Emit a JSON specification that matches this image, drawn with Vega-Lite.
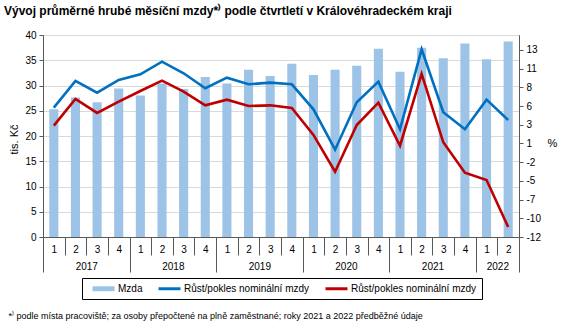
{
  "$schema": "https://vega.github.io/schema/vega-lite/v6.json",
  "width": 476,
  "height": 202,
  "autosize": {"type": "none"},
  "padding": {"left": 43, "top": 35, "right": 48, "bottom": 90},
  "config": {
    "font": "Liberation Sans",
    "view": {"stroke": "#595959", "strokeWidth": 1}
  },
  "title": {
    "text": "Vývoj průměrné hrubé měsíční mzdy*⁾ podle čtvrtletí v Královéhradeckém kraji",
    "anchor": "start",
    "frame": "group",
    "dx": -39,
    "fontSize": 12,
    "fontWeight": "bold",
    "color": "#000000",
    "offset": 12
  },
  "data": {
    "values": [
      {"key": "2017-1", "mzda": 25.3, "nom1": 5.29, "nom2": 2.88},
      {"key": "2017-2", "mzda": 27.6, "nom1": 8.86, "nom2": 6.45},
      {"key": "2017-3", "mzda": 26.7, "nom1": 7.29, "nom2": 4.58},
      {"key": "2017-4", "mzda": 29.4, "nom1": 8.99, "nom2": 6.09},
      {"key": "2018-1", "mzda": 28.0, "nom1": 9.75, "nom2": 7.52},
      {"key": "2018-2", "mzda": 30.4, "nom1": 11.44, "nom2": 8.9},
      {"key": "2018-3", "mzda": 29.3, "nom1": 9.88, "nom2": 7.43},
      {"key": "2018-4", "mzda": 31.7, "nom1": 7.88, "nom2": 5.6},
      {"key": "2019-1", "mzda": 30.4, "nom1": 9.3, "nom2": 6.36},
      {"key": "2019-2", "mzda": 33.1, "nom1": 8.41, "nom2": 5.51},
      {"key": "2019-3", "mzda": 31.9, "nom1": 8.63, "nom2": 5.6},
      {"key": "2019-4", "mzda": 34.3, "nom1": 8.41, "nom2": 5.25},
      {"key": "2020-1", "mzda": 32.1, "nom1": 5.07, "nom2": 1.64},
      {"key": "2020-2", "mzda": 33.1, "nom1": -0.33, "nom2": -3.27},
      {"key": "2020-3", "mzda": 33.9, "nom1": 6.0, "nom2": 2.97},
      {"key": "2020-4", "mzda": 37.3, "nom1": 8.76, "nom2": 5.95},
      {"key": "2021-1", "mzda": 32.7, "nom1": 2.4, "nom2": 0.2},
      {"key": "2021-2", "mzda": 37.5, "nom1": 13.09, "nom2": 9.79},
      {"key": "2021-3", "mzda": 35.4, "nom1": 4.67, "nom2": 0.66},
      {"key": "2021-4", "mzda": 38.3, "nom1": 2.4, "nom2": -3.4},
      {"key": "2022-1", "mzda": 35.2, "nom1": 6.36, "nom2": -4.38},
      {"key": "2022-2", "mzda": 38.7, "nom1": 3.64, "nom2": -10.66}
    ]
  },
  "layer": [
    {
      "mark": {"type": "bar", "width": {"band": 0.42}},
      "encoding": {
        "x": {
          "field": "key",
          "type": "ordinal",
          "sort": null,
          "scale": {"type": "band", "paddingInner": 0, "paddingOuter": 0},
          "axis": {
            "orient": "bottom",
            "title": null,
            "tickBand": "extent",
            "tickSize": 18,
            "tickColor": "#595959",
            "domainColor": "#595959",
            "labelExpr": "split(datum.value, '-')[1]",
            "labelAngle": 0,
            "labelBaseline": "middle",
            "labelPadding": -6,
            "labelFontSize": 10,
            "labelColor": "#000000",
            "labelOverlap": false,
            "grid": false
          }
        },
        "y": {
          "field": "mzda",
          "type": "quantitative",
          "scale": {"domain": [0, 40], "nice": false},
          "axis": {
            "orient": "left",
            "values": [0, 5, 10, 15, 20, 25, 30, 35, 40],
            "tickSize": 4,
            "tickColor": "#595959",
            "domainColor": "#595959",
            "labelPadding": 3,
            "labelFontSize": 10,
            "labelColor": "#000000",
            "grid": true,
            "gridColor": "#D9D9D9",
            "title": "tis. Kč",
            "titleFontSize": 11,
            "titleFontWeight": "normal",
            "titleColor": "#000000",
            "titleX": -29,
            "titleY": 104,
            "titleAngle": -90,
            "titleAlign": "center",
            "titleBaseline": "middle"
          }
        },
        "color": {
          "datum": "Mzda",
          "type": "nominal",
          "title": null,
          "scale": {"domain": ["Mzda", "nom1", "nom2"], "range": ["#9DC3E6", "#0070C0", "#C00000"]},
          "legend": {
            "orient": "none",
            "legendX": 39,
            "legendY": 243,
            "direction": "horizontal",
            "title": null,
            "strokeColor": "#000000",
            "fillColor": "#ffffff",
            "padding": 5,
            "labelFontSize": 10,
            "labelColor": "#000000",
            "symbolSize": 121,
            "labelOffset": 20,
            "columnPadding": 10,
            "labelExpr": "datum.value == 'Mzda' ? 'Mzda' : 'Růst/pokles nominální mzdy'",
            "encode": {
              "symbols": {
                "update": {
                  "shape": [
                    {"test": "datum.value === 'Mzda'", "value": "M0,-0.45H4V0.45H0Z"},
                    {"value": "M0,-0.27H4V0.27H0Z"}
                  ],
                  "fill": {"scale": "color", "field": "value"},
                  "fillOpacity": {"value": 1},
                  "strokeWidth": {"value": 0}
                }
              }
            }
          }
        }
      }
    },
    {
      "transform": [{"fold": ["nom1", "nom2"], "as": ["series", "pct"]}],
      "mark": {"type": "line", "strokeWidth": 2.6},
      "encoding": {
        "x": {
          "field": "key",
          "type": "ordinal",
          "sort": null,
          "scale": {"type": "band", "paddingInner": 0, "paddingOuter": 0},
          "axis": {
            "orient": "bottom",
            "tickBand": "extent",
            "tickSize": 35,
            "tickColor": "#595959",
            "tickOpacity": {"condition": {"test": "datum.extra || split(datum.value, '-')[1] == '4' || datum.value == '2022-2'", "value": 1}, "value": 0},
            "domain": false,
            "grid": false,
            "labelExpr": "((split(datum.value, '-')[1] == '2' && datum.value != '2022-2') || datum.value == '2022-1') ? split(datum.value, '-')[0] : ''",
            "labelOffset": 10.82,
            "labelAngle": 0,
            "labelBaseline": "middle",
            "labelPadding": -5.3,
            "labelOverlap": false,
            "labelFontSize": 10,
            "labelColor": "#000000",
            "title": "*⁾ podle místa pracoviště; za osoby přepočtené na plně zaměstnané; roky 2021 a 2022 předběžné údaje",
            "titleX": -35,
            "titleY": 78,
            "titleAlign": "left",
            "titleBaseline": "middle",
            "titleFontSize": 9,
            "titleFontWeight": "normal",
            "titleColor": "#000000"
          }
        },
        "y": {
          "field": "pct",
          "type": "quantitative",
          "scale": {"domain": [-12, 15], "nice": false, "zero": false},
          "axis": {
            "orient": "right",
            "values": [-12, -9.5, -7, -4.5, -2, 0.5, 3, 5.5, 8, 10.5, 13],
            "labelExpr": "datum.value < 0 ? '-' + format(round(-datum.value), 'd') : format(round(datum.value), 'd')",
            "tickSize": 4,
            "tickColor": "#595959",
            "domainColor": "#595959",
            "labelPadding": 3,
            "labelFontSize": 10,
            "labelColor": "#000000",
            "grid": false,
            "title": "%",
            "titleFontSize": 11,
            "titleFontWeight": "normal",
            "titleColor": "#000000",
            "titleX": 33,
            "titleY": 108,
            "titleAngle": 0,
            "titleAlign": "center",
            "titleBaseline": "middle"
          }
        },
        "color": {"field": "series", "type": "nominal", "title": null}
      }
    }
  ],
  "resolve": {
    "scale": {"x": "independent", "y": "independent"},
    "axis": {"x": "independent", "y": "independent"}
  }
}
